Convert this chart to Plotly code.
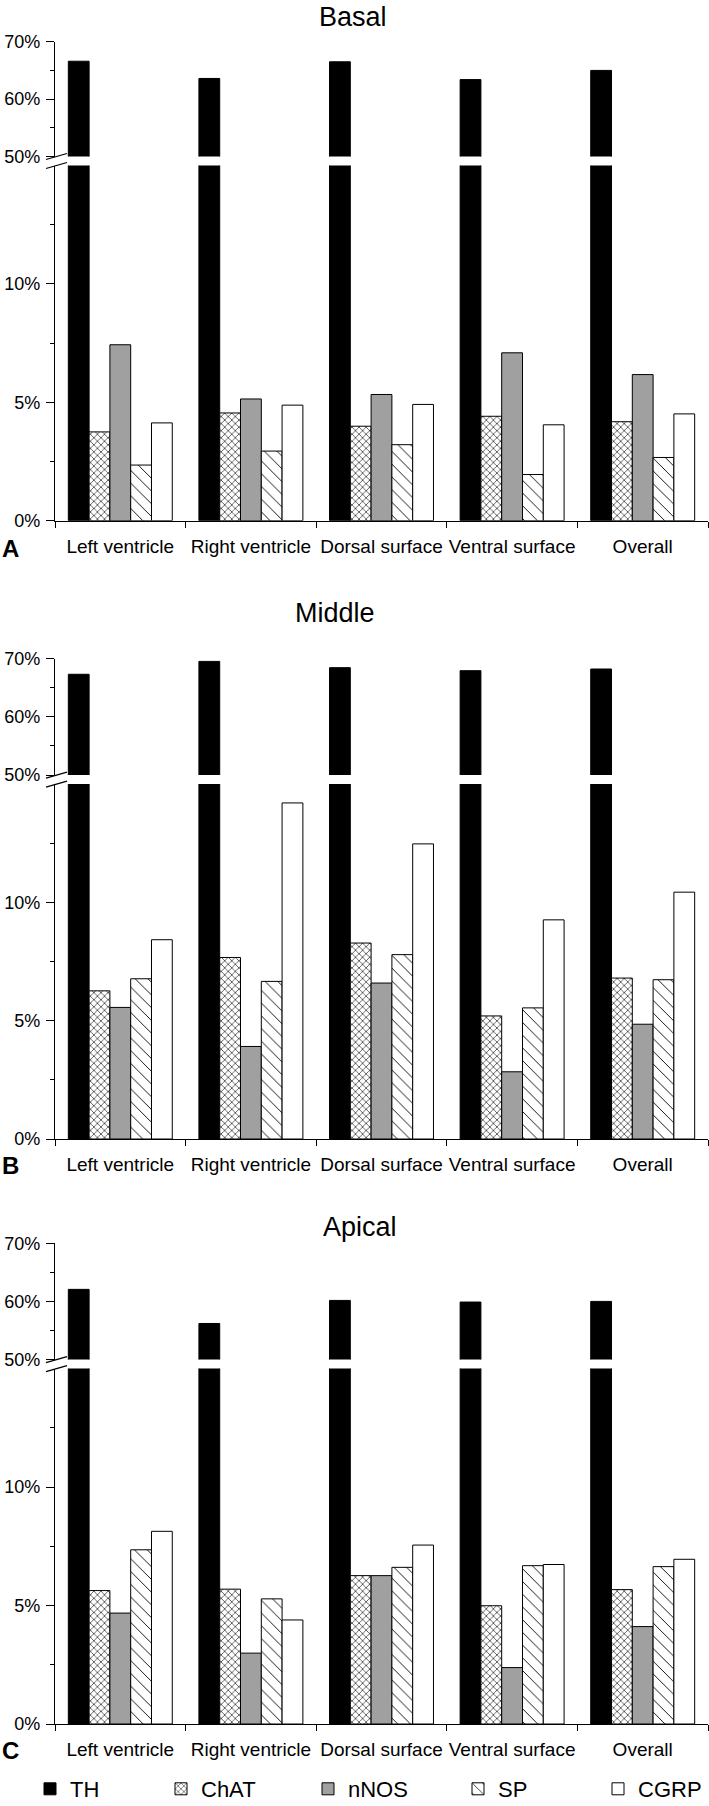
import plotly.graph_objects as go

# ---------------- data ----------------
categories = ["Left ventricle", "Right ventricle", "Dorsal surface", "Ventral surface", "Overall"]
series_names = ["TH", "ChAT", "nNOS", "SP", "CGRP"]
panel_titles = ["Basal", "Middle", "Apical"]
panel_letters = ["A", "B", "C"]

basal_TH = [66.6, 63.6, 66.5, 63.4, 65.0]
basal_ChAT = [3.75, 4.55, 3.99, 4.41, 4.18]
basal_nNOS = [7.43, 5.14, 5.33, 7.09, 6.17]
basal_SP = [2.35, 2.94, 3.21, 1.95, 2.67]
basal_CGRP = [4.13, 4.88, 4.91, 4.05, 4.51]

middle_TH = [67.35, 69.57, 68.49, 67.97, 68.26]
middle_ChAT = [6.26, 7.67, 8.28, 5.20, 6.80]
middle_nNOS = [5.56, 3.91, 6.59, 2.84, 4.85]
middle_SP = [6.77, 6.66, 7.79, 5.54, 6.73]
middle_CGRP = [8.42, 14.2, 12.47, 9.26, 10.43]

apical_TH = [62.07, 56.2, 60.17, 59.89, 60.0]
apical_ChAT = [5.63, 5.69, 6.26, 4.99, 5.67]
apical_nNOS = [4.68, 2.99, 6.26, 2.38, 4.11]
apical_SP = [7.35, 5.28, 6.61, 6.68, 6.64]
apical_CGRP = [8.13, 4.39, 7.55, 6.73, 6.95]

upper_tickvals = [50, 60, 70]
upper_ticktext = ["50%", "60%", "70%"]
upper_minor = [55, 65]
lower_tickvals = [0, 5, 10]
lower_ticktext = ["0%", "5%", "10%"]
lower_minor = [2.5, 7.5, 12.5]

panels = [
    [basal_TH, basal_ChAT, basal_nNOS, basal_SP, basal_CGRP],
    [middle_TH, middle_ChAT, middle_nNOS, middle_SP, middle_CGRP],
    [apical_TH, apical_ChAT, apical_nNOS, apical_SP, apical_CGRP],
]

# ---------------- styling / layout ----------------
W, H = 709, 1806
ML, MR = 55, 1
PW = W - ML - MR
FONT = "Liberation Sans, Arial, Helvetica, sans-serif"

# pixel rows: (70% top, 50% bottom of upper, 15% top of lower, 0% bottom)
panel_px = [(41.7, 156.5, 165.5, 520.7),
            (658.9, 775.0, 784.0, 1139.0),
            (1243.3, 1359.5, 1368.5, 1724.0)]
# (centre x, y, anchor)
title_pos = [(353, 0, "top"), (335, 613, "middle"), (360, 1227, "middle")]
letter_py = [548, 1165, 1750]


def pf(py):
    return 1 - py / H


def px_to_xpaper(px):
    return (px - ML) / PW


marker_styles = {
    "TH": dict(color="black", line=dict(color="black", width=1)),
    "ChAT": dict(color="white", line=dict(color="black", width=1),
                 pattern=dict(shape="x", size=5, solidity=0.22, fgcolor="black", bgcolor="white")),
    "nNOS": dict(color="#a0a0a0", line=dict(color="black", width=1)),
    "SP": dict(color="white", line=dict(color="black", width=1),
               pattern=dict(shape="\\", size=9, solidity=0.1, fgcolor="black", bgcolor="white")),
    "CGRP": dict(color="white", line=dict(color="black", width=1)),
}
legend_ids = ["legend", "legend2", "legend3", "legend4", "legend5"]
legend_x_px = [30, 161, 308, 458, 598]

fig = go.Figure()
layout = dict()
shapes = []
annotations = []

for p, data in enumerate(panels):
    top, ub, lt, bot = panel_px[p]
    for sub in range(2):  # 0 upper, 1 lower
        idx = 2 * p + sub + 1
        xname = "x" if idx == 1 else f"x{idx}"
        yname = "y" if idx == 1 else f"y{idx}"
        xkey = "xaxis" if idx == 1 else f"xaxis{idx}"
        ykey = "yaxis" if idx == 1 else f"yaxis{idx}"
        for s, name in enumerate(series_names):
            show = (p == 2 and sub == 1)
            fig.add_trace(go.Bar(
                x=categories, y=data[s], name=name,
                marker=marker_styles[name],
                xaxis=xname, yaxis=yname,
                showlegend=show, legend=legend_ids[s],
                hoverinfo="skip",
            ))
        yaxis_common = dict(
            anchor=xname,
            ticks="outside", ticklen=8, tickwidth=1.3, tickcolor="black",
            showline=True, linecolor="black", linewidth=1.3,
            showgrid=False, zeroline=False,
            tickfont=dict(size=18, color="black", family=FONT),
            ticklabelstandoff=2,
        )
        if sub == 0:
            layout[ykey] = dict(
                domain=[pf(ub), pf(top)], range=[50, 70],
                tickvals=upper_tickvals, ticktext=upper_ticktext,
                minor=dict(tickvals=upper_minor, ticks="outside", ticklen=4,
                           tickwidth=1.3, tickcolor="black"),
                **yaxis_common,
            )
            layout[xkey] = dict(
                domain=[0, 1], anchor=yname, range=[-0.5, 4.5],
                type="category", categoryorder="array", categoryarray=categories,
                showline=False, showticklabels=False, ticks="",
                showgrid=False, zeroline=False,
            )
        else:
            layout[ykey] = dict(
                domain=[pf(bot), pf(lt)], range=[0, 15],
                tickvals=lower_tickvals, ticktext=lower_ticktext,
                minor=dict(tickvals=lower_minor, ticks="outside", ticklen=4,
                           tickwidth=1.3, tickcolor="black"),
                **yaxis_common,
            )
            layout[xkey] = dict(
                domain=[0, 1], anchor=yname, range=[-0.5, 4.5],
                type="category", categoryorder="array", categoryarray=categories,
                showline=True, linecolor="black", linewidth=1.3,
                ticks="outside", tickson="boundaries", ticklen=6,
                tickwidth=1.3, tickcolor="black",
                showgrid=False, zeroline=False, tickangle=0,
                tickfont=dict(size=19, color="black", family=FONT),
                ticklabelstandoff=8,
            )

    # break marks "//" on the left axis
    for anchor_py in (ub, lt):
        shapes.append(dict(
            type="line", xref="paper", yref="paper",
            xsizemode="pixel", ysizemode="pixel",
            xanchor=0, yanchor=pf(anchor_py),
            x0=-9, x1=12, y0=-3, y1=3,
            line=dict(color="black", width=1.3),
        ))

    tx, ty, ya = title_pos[p]
    annotations.append(dict(
        text=panel_titles[p], xref="paper", yref="paper",
        x=px_to_xpaper(tx), y=pf(ty), xanchor="center", yanchor=ya,
        showarrow=False, font=dict(size=27, color="black", family=FONT),
    ))
    annotations.append(dict(
        text=f"<b>{panel_letters[p]}</b>", xref="paper", yref="paper",
        x=px_to_xpaper(10), y=pf(letter_py[p]), xanchor="center", yanchor="middle",
        showarrow=False, font=dict(size=24, color="black", family=FONT),
    ))

for i, lid in enumerate(legend_ids):
    layout[lid] = dict(
        xref="paper", yref="paper",
        x=px_to_xpaper(legend_x_px[i]), y=pf(1789),
        xanchor="left", yanchor="middle",
        orientation="h", bgcolor="rgba(0,0,0,0)",
        font=dict(size=22, color="black", family=FONT),
        itemwidth=30,
    )

fig.update_layout(
    **layout,
    width=W, height=H,
    margin=dict(l=ML, r=MR, t=0, b=0, autoexpand=False),
    barmode="group", bargap=0.204, bargroupgap=0,
    plot_bgcolor="white", paper_bgcolor="white",
    template="none",
    font=dict(family=FONT, color="black"),
    shapes=shapes, annotations=annotations,
)

fig.write_html(
    "out.html",
    config={"displayModeBar": False},
    post_script="document.body.style.margin='0';document.body.style.overflow='hidden';",
)
